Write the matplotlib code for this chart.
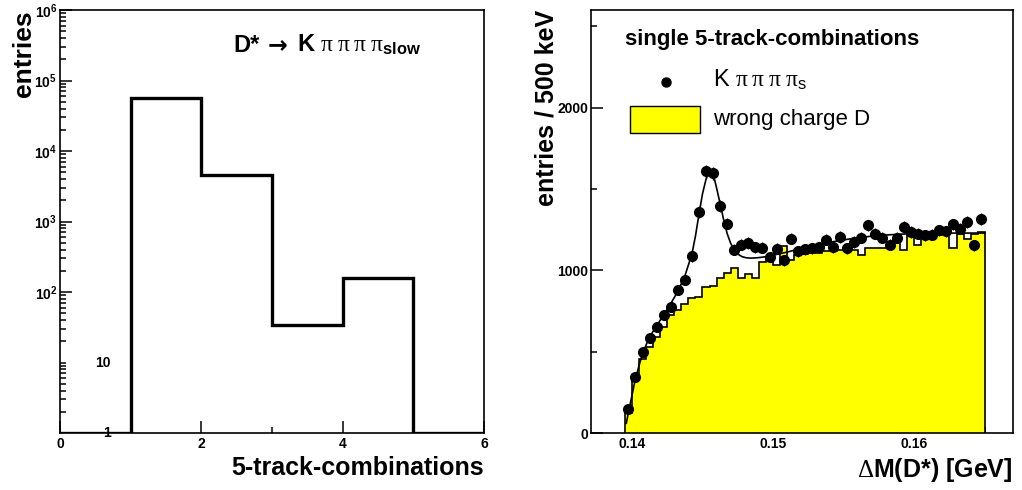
import numpy as np
import matplotlib
matplotlib.use("Agg")
import matplotlib.pyplot as plt
from matplotlib.patches import Rectangle
from matplotlib.ticker import FixedLocator, NullFormatter, MultipleLocator

plt.rcParams['font.family'] = ['Liberation Sans', 'DejaVu Sans']
plt.rcParams['mathtext.fontset'] = 'custom'
plt.rcParams['mathtext.rm'] = 'Liberation Serif'
plt.rcParams['mathtext.it'] = 'Liberation Serif:italic'
plt.rcParams['mathtext.bf'] = 'Liberation Sans:bold'
plt.rcParams['mathtext.sf'] = 'Liberation Sans'

# ---------------- data: left panel ----------------
ntrack_edges = [0, 1, 2, 3, 4, 5, 6]
ntrack_counts = [1, 56000, 4600, 34, 160, 1]

# ---------------- data: right panel ----------------
dm_lo = 0.1395
dm_width = 0.0005
kpi_counts = [147, 344, 497, 585, 652, 728, 775, 881, 943, 1086,
              1358, 1609, 1597, 1395, 1287, 1127, 1158, 1168, 1143, 1139,
              1082, 1133, 1061, 1194, 1117, 1129, 1137, 1143, 1188, 1143,
              1204, 1137, 1174, 1200, 1276, 1225, 1200, 1158, 1200, 1266,
              1235, 1225, 1215, 1219, 1245, 1239, 1282, 1256, 1296, 1153,
              1313]
wrong_counts = [125, 330, 455, 530, 590, 650, 725, 755, 790, 828,
                836, 898, 902, 951, 981, 1012, 953, 975, 951, 1051,
                1082, 1031, 1147, 1061, 1095, 1100, 1104, 1104, 1118, 1120,
                1122, 1125, 1125, 1092, 1140, 1140, 1135, 1140, 1200, 1123,
                1215, 1153, 1215, 1220, 1220, 1225, 1135, 1225, 1190, 1225,
                1235]
fit_x = [0.1396, 0.13975, 0.14025, 0.14075, 0.14125, 0.14175, 0.14225, 0.14275,
         0.14325, 0.14375, 0.14425, 0.1445, 0.14475, 0.1450, 0.14525, 0.1454,
         0.14555, 0.1457, 0.14585, 0.1460, 0.14625, 0.1465, 0.14675, 0.1470,
         0.14725, 0.1475, 0.1478, 0.1481, 0.1484, 0.1487, 0.1490, 0.1495,
         0.1500, 0.1510, 0.1520, 0.1530, 0.1540, 0.1550, 0.1560, 0.1570,
         0.1580, 0.1590, 0.1600, 0.1610, 0.1620, 0.1630, 0.1640, 0.1650]
fit_y = [60, 125, 335, 490, 590, 660, 725, 795, 870, 965,
         1100, 1210, 1345, 1470, 1560, 1595, 1605, 1595, 1560, 1505,
         1410, 1310, 1225, 1165, 1125, 1100, 1084, 1077, 1075, 1076,
         1078, 1084, 1093, 1112, 1135, 1155, 1172, 1187, 1200, 1210,
         1217, 1222, 1225, 1227, 1228, 1229, 1229, 1229]

YELLOW = '#ffff00'

fig = plt.figure(figsize=(10.22, 4.9), dpi=100)
fig.patch.set_facecolor('white')

W, H = 1022.0, 490.0
ax1 = fig.add_axes([60 / W, 57 / H, 424 / W, 423 / H])
ax2 = fig.add_axes([591 / W, 57 / H, 422 / W, 423 / H])

for ax in (ax1, ax2):
    for s in ax.spines.values():
        s.set_linewidth(1.2)
    ax.tick_params(which='both', direction='in', top=False, right=False,
                   width=1.1, labelsize=10)
    ax.tick_params(which='major', length=8.5)
    ax.tick_params(which='minor', length=4.5)

# ---------------- left panel ----------------
ax1.stairs(ntrack_counts, ntrack_edges, color='black', linewidth=2.4, baseline=None)
ax1.set_yscale('log')
ax1.set_ylim(1, 1e6)
ax1.set_xlim(0, 6)
ax1.yaxis.set_major_locator(FixedLocator([1e2, 1e3, 1e4, 1e5, 1e6]))
ax1.set_yticklabels([r'$\mathbf{10^{2}}$', r'$\mathbf{10^{3}}$', r'$\mathbf{10^{4}}$',
                     r'$\mathbf{10^{5}}$', r'$\mathbf{10^{6}}$'])
minors = [m * 10 ** d for d in range(0, 6) for m in range(2, 10)] + [10]
ax1.yaxis.set_minor_locator(FixedLocator(minors))
ax1.yaxis.set_minor_formatter(NullFormatter())
ax1.xaxis.set_major_locator(FixedLocator([0, 2, 4, 6]))
ax1.xaxis.set_minor_locator(MultipleLocator(1))
ax1.set_xticklabels(['0', '2', '4', '6'], fontweight='bold')
ax1.tick_params(axis='y', pad=2)
ax1.tick_params(axis='x', pad=3)
ax1.text(0.6, 10, '10', ha='center', va='center', fontsize=10, fontweight='bold')
ax1.text(0.66, 1.0, '1', ha='center', va='center', fontsize=10, fontweight='bold')

ax1.set_xlabel('5-track-combinations', fontsize=18, fontweight='bold', loc='right')
ax1.xaxis.set_label_coords(1.0, -0.055)
ax1.set_ylabel('entries', fontsize=19, fontweight='bold', loc='top')
ax1.yaxis.set_label_coords(-0.057, 1.0)
# title built from pieces: "D*", arrow, "K pi pi pi pi_slow"
ax1.text(0.408, 0.901, 'D*', transform=ax1.transAxes, fontsize=17, fontweight='bold',
         va='baseline', ha='left')
ax1.text(0.489, 0.901, '\u2192', transform=ax1.transAxes, fontsize=17, fontweight='bold',
         family='DejaVu Sans', va='baseline', ha='left')
ax1.text(0.559, 0.901, r'K $\mathrm{\pi\;\pi\;\pi\;\pi}_{\mathbf{slow}}$',
         transform=ax1.transAxes, fontsize=17, fontweight='bold', va='baseline', ha='left')

# ---------------- right panel ----------------
nb = len(wrong_counts)
edges = dm_lo + dm_width * np.arange(nb + 1)
centers = 0.5 * (edges[:-1] + edges[1:])
ax2.set_axisbelow(True)
ax2.stairs(wrong_counts, edges, fill=True, facecolor=YELLOW, edgecolor='none', zorder=1)
ax2.stairs(wrong_counts, edges, color='black', linewidth=1.2, baseline=0, zorder=1.5)
kpi = np.array(kpi_counts, dtype=float)
ax2.errorbar(centers, kpi, yerr=np.sqrt(kpi), fmt='o', color='black', markersize=7,
             elinewidth=1.0, capsize=0, zorder=3)
ax2.plot(fit_x, fit_y, color='black', linewidth=1.2, zorder=2.5)

ax2.set_xlim(0.1371, 0.1670)
ax2.set_ylim(0, 2600)
ax2.yaxis.set_major_locator(FixedLocator([0, 1000, 2000]))
ax2.yaxis.set_minor_locator(FixedLocator([500, 1500, 2500]))
ax2.yaxis.set_minor_formatter(NullFormatter())
ax2.set_yticklabels(['0', '1000', '2000'], fontweight='bold')
ax2.xaxis.set_major_locator(FixedLocator([0.14, 0.15, 0.16]))
ax2.xaxis.set_minor_locator(MultipleLocator(0.005))
ax2.set_xticklabels(['0.14', '0.15', '0.16'], fontweight='bold')
ax2.tick_params(axis='y', pad=2)
ax2.tick_params(axis='x', pad=3)

ax2.set_xlabel(r'$\Delta$M(D*) [GeV]', fontsize=18, fontweight='bold', loc='right')
ax2.xaxis.set_label_coords(1.0, -0.055)
ax2.set_ylabel('entries / 500 keV', fontsize=18, fontweight='bold', loc='top')
ax2.yaxis.set_label_coords(-0.076, 1.0)

# legend drawn in axes coordinates
ax2.text(0.0806, 0.931, 'single 5-track-combinations', transform=ax2.transAxes,
         fontsize=16, fontweight='bold', ha='left', va='center')
ax2.plot([0.178], [0.830], 'o', color='black', markersize=6.5, transform=ax2.transAxes,
         clip_on=False)
ax2.text(0.289, 0.835, r'K $\mathrm{\pi\;\pi\;\pi\;\pi}_{\mathsf{s}}$', transform=ax2.transAxes,
         fontsize=17, ha='left', va='center')
ax2.add_patch(Rectangle((0.0924, 0.709), 0.1656, 0.064, transform=ax2.transAxes,
                        facecolor=YELLOW, edgecolor='black', linewidth=1.0))
ax2.text(0.289, 0.740, 'wrong charge D', transform=ax2.transAxes,
         fontsize=16, ha='left', va='center')

fig.savefig('out.png', dpi=100)
